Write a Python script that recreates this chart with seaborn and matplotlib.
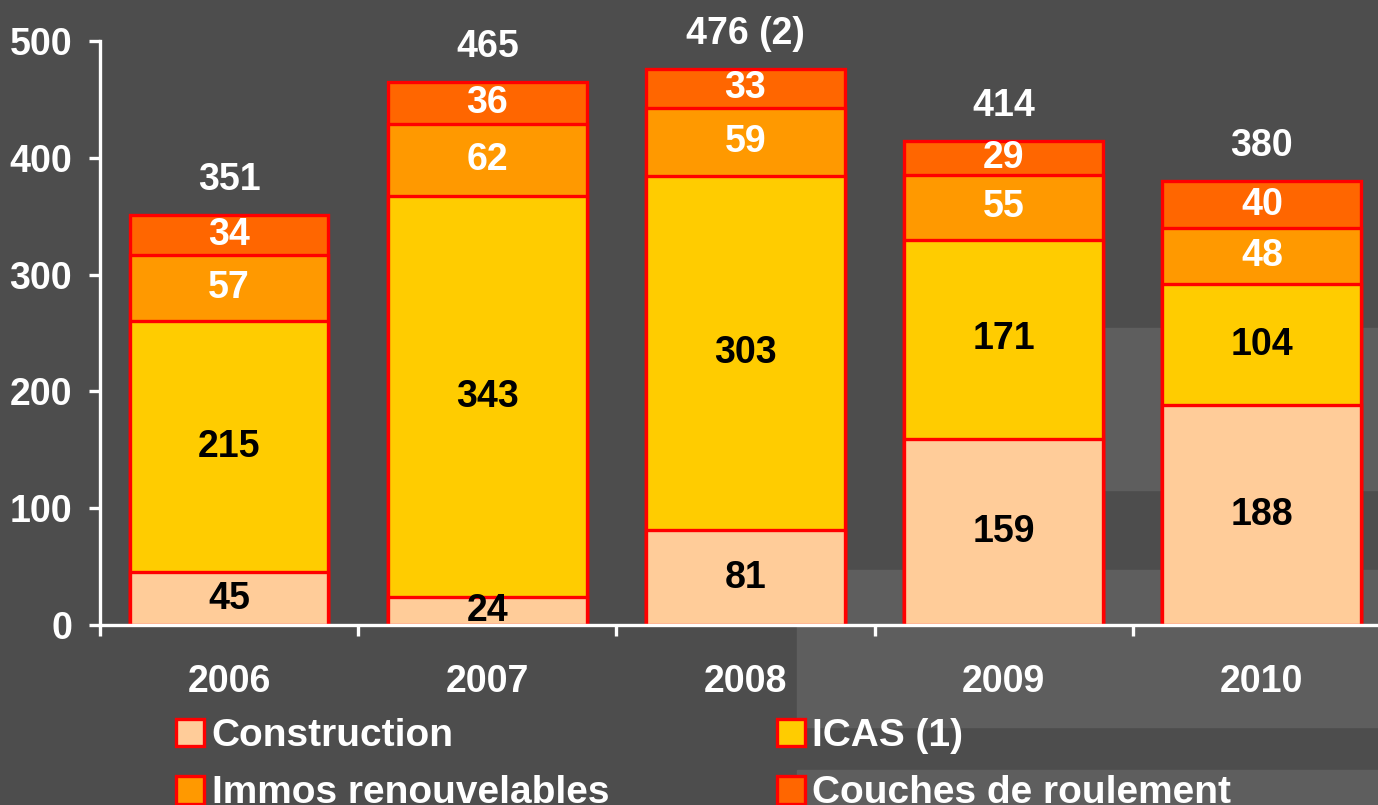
import pandas as pd
import seaborn as sns
import matplotlib.pyplot as plt
from matplotlib.patches import Patch, Rectangle

years = ['2006', '2007', '2008', '2009', '2010']
construction = [45, 24, 81, 159, 188]
icas = [215, 343, 303, 171, 104]
immos = [57, 62, 59, 55, 48]
couches = [34, 36, 33, 29, 40]
total_labels = ['351', '465', '476 (2)', '414', '380']

series_names = ['Construction', 'ICAS (1)', 'Immos renouvelables', 'Couches de roulement']
series_colors = ['#FFCC99', '#FFCC00', '#FF9900', '#FF6600']
label_colors = ['black', 'black', 'white', 'white']

bg = '#4D4D4D'
light = '#5E5E5E'
edge = '#FF0000'
fs = 27

sns.set_style('dark')
plt.rcParams['font.family'] = ['Liberation Sans', 'DejaVu Sans']
plt.rcParams['font.weight'] = 'bold'
plt.rcParams['font.size'] = fs

df = pd.DataFrame({'year': years, 'Construction': construction, 'ICAS (1)': icas,
                   'Immos renouvelables': immos, 'Couches de roulement': couches})
cum = df[series_names].cumsum(axis=1)

W, H = 1378, 805
fig = plt.figure(figsize=(W / 100, H / 100), dpi=100, facecolor=bg)

# decorative lighter panels behind the chart
for x0, y0, x1, y1 in [(903, 328, W, 490), (797, 570, W, 727), (797, 770, W, H)]:
    fig.patches.append(Rectangle((x0 / W, 1 - y1 / H), (x1 - x0) / W, (y1 - y0) / H,
                                 transform=fig.transFigure, color=light, zorder=-5))

ax = fig.add_axes([100 / W, 1 - 625 / H, 1 - 100 / W, (625 - 41) / H])
ax.patch.set_alpha(0)

# stacked bars: draw cumulative totals from the top layer down
for i in range(len(series_names) - 1, -1, -1):
    sns.barplot(x=df['year'], y=cum[series_names[i]], color=series_colors[i],
                width=0.77, edgecolor=edge, linewidth=2.4, saturation=1, ax=ax, zorder=2)

# segment labels
for i, name in enumerate(series_names):
    bottoms = cum[name] - df[name]
    for j, v in enumerate(df[name]):
        ax.text(j, bottoms[j] + v / 2, str(v), ha='center', va='center',
                color=label_colors[i], fontsize=fs, fontweight='bold', zorder=5)

# totals above the bars
for j, lab in enumerate(total_labels):
    ax.text(j, cum[series_names[-1]][j] + 30, lab, ha='center', va='center',
            color='white', fontsize=fs, fontweight='bold', clip_on=False)

ax.set_xlim(-0.5, 4.45)
ax.set_ylim(0, 500)
ax.set_yticks([0, 100, 200, 300, 400, 500])
ax.set_xticks(range(len(years)))
ax.set_xticklabels(years)
ax.set_xticks([-0.5, 0.5, 1.5, 2.5, 3.5], minor=True)
ax.set_xlabel('')
ax.set_ylabel('')
ax.grid(False)

for s in ['top', 'right']:
    ax.spines[s].set_visible(False)
for s in ['left', 'bottom']:
    ax.spines[s].set_visible(True)
    ax.spines[s].set_color('white')
    ax.spines[s].set_linewidth(2.4)
    ax.spines[s].set_zorder(6)

ax.tick_params(axis='y', colors='white', length=8, width=2.4, pad=12, labelsize=fs, left=True)
ax.tick_params(axis='x', which='major', colors='white', length=0, pad=28, labelsize=fs)
ax.tick_params(axis='x', which='minor', colors='white', length=8, width=2.4, bottom=True)

handles = [Patch(facecolor=c, edgecolor=edge, linewidth=2.4) for c in series_colors]
# order so that rows read Construction / ICAS, Immos / Couches
order = [0, 2, 1, 3]
fig.legend([handles[k] for k in order], [series_names[k] for k in order],
           ncol=2, loc='upper left', bbox_to_anchor=(176 / W, 1 - 718 / H),
           frameon=False, labelcolor='white', fontsize=28,
           handlelength=0.72, handleheight=0.72, handletextpad=0.2,
           columnspacing=4.3, labelspacing=0.55, borderaxespad=0, borderpad=0)

fig.savefig('out.png', dpi=100, facecolor=bg)
